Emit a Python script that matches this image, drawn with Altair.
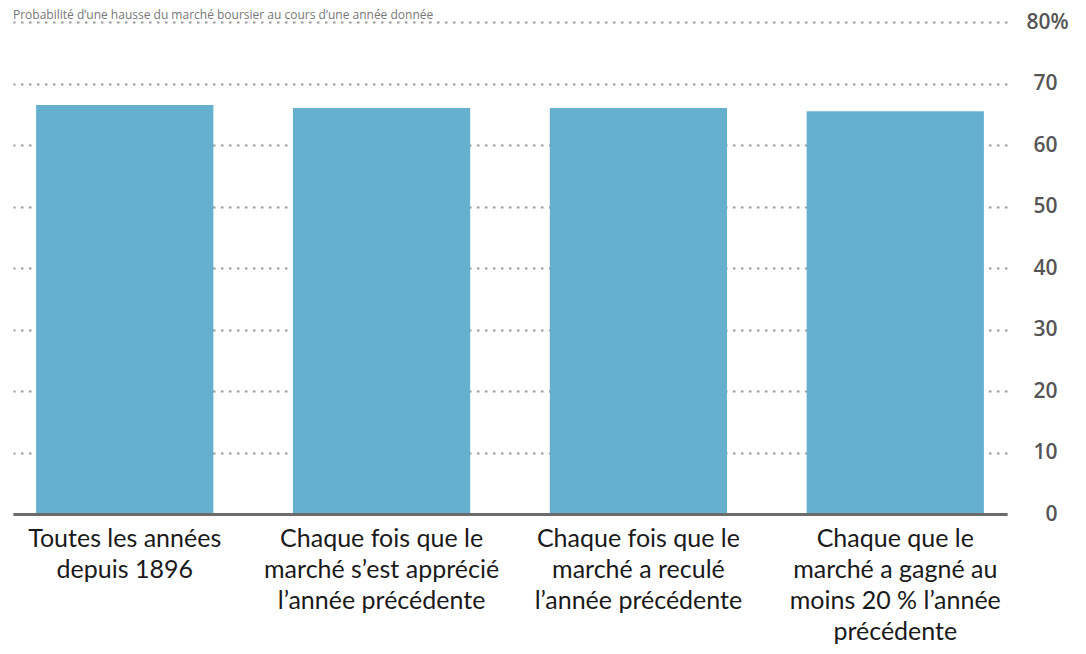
import altair as alt
import pandas as pd

title_text = "Probabilité d’une hausse du marché boursier au cours d’une année donnée"

categories = [
    "Toutes les années\ndepuis 1896",
    "Chaque fois que le\nmarché s’est apprécié\nl’année précédente",
    "Chaque fois que le\nmarché a reculé\nl’année précédente",
    "Chaque que le\nmarché a gagné au\nmoins 20 % l’année\nprécédente",
]
values = [66.5, 66.0, 66.0, 65.5]
y_ticks = [0, 10, 20, 30, 40, 50, 60, 70, 80]

df = pd.DataFrame({"cat": categories, "val": values})
tdf = pd.DataFrame({"t": [title_text]})

bars = alt.Chart(df).mark_bar(color="#65B0CF").encode(
    x=alt.X(
        "cat:N",
        sort=None,
        title=None,
        scale=alt.Scale(paddingInner=0.31, paddingOuter=0.09),
        axis=alt.Axis(
            orient="bottom",
            domain=True,
            domainColor="#6b6b6b",
            domainWidth=3,
            ticks=False,
            grid=False,
            labelAngle=0,
            labelExpr="split(datum.label, '\\n')",
            labelFont="Lato",
            labelFontSize=25,
            labelLineHeight=31,
            labelColor="#1a1a1a",
            labelPadding=12,
            labelLimit=0,
            labelBaseline="top",
            zindex=1,
        ),
    ),
    y=alt.Y(
        "val:Q",
        title=None,
        scale=alt.Scale(domain=[0, 80], nice=False),
        axis=alt.Axis(
            orient="right",
            values=y_ticks,
            domain=False,
            ticks=False,
            grid=True,
            gridColor="#9a9a9a",
            gridDash=[2.5, 5.5],
            gridWidth=2.2,
            labelFont="Open Sans",
            labelFontSize=21,
            labelFontWeight=600,
            labelColor="#555555",
            labelExpr="datum.value == 80 ? '80%' : datum.label",
            labelAlign=alt.ConditionalAxisLabelAlign(
                condition={"test": "datum.value == 80", "value": "left"},
                value="right",
            ),
            labelPadding=alt.ConditionalAxisNumber(
                condition={"test": "datum.value == 80", "value": 19},
                value=50,
            ),
            zindex=0,
        ),
    ),
)

title_mark = alt.Chart(tdf).mark_text(
    align="left",
    baseline="alphabetic",
    font="Open Sans",
    fontSize=12,
    color="#777777",
).encode(
    x=alt.value(0),
    y=alt.value(-3),
    text="t:N",
)

chart = alt.layer(bars, title_mark).properties(
    width=994,
    height=492,
    padding={"left": 5, "top": 14, "right": 71, "bottom": 132},
    autosize=alt.AutoSizeParams(type="none"),
).configure_view(stroke=None)

chart.save("out.html", embed_options={"renderer": "svg", "actions": False})
